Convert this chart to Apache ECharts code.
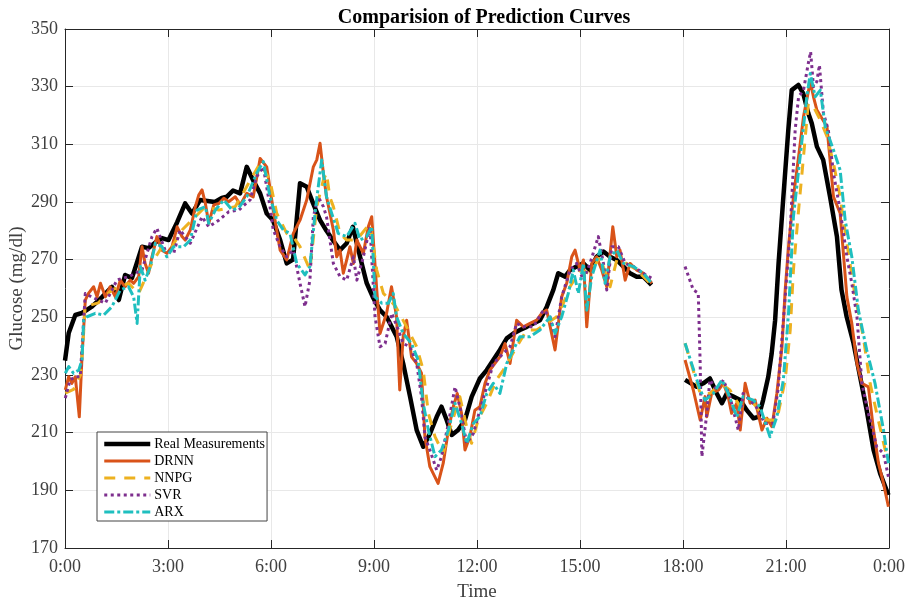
<!DOCTYPE html>
<html>
<head>
<meta charset="utf-8">
<script src="https://cdn.jsdelivr.net/npm/echarts@6/dist/echarts.min.js"></script>
<style>
html,body{margin:0;padding:0;background:#fff;}
#chart{width:913px;height:599px;}
</style>
</head>
<body>
<div id="chart"></div>
<script>
// time in minutes after 0:00, glucose in mg/dl
const xTicks = ['0:00','3:00','6:00','9:00','12:00','15:00','18:00','21:00','0:00'];
const yTicks = [170,190,210,230,250,270,290,310,330,350];

const realSeg1 = [[0,235],[6.5,244.6],[18,250.8],[29.7,251.5],[47,253.7],[64.7,257],[82,260.6],[94,256],[105,264.7],[117,263.6],[134.6,274.5],[146,274],[158,276],[169.5,277.5],[181,276.8],[196,283],[210,289.5],[222,286],[236,290.7],[262,290],[274,291.4],[282.6,291.8],[293.6,294],[306,293],[317.6,302.2],[328.6,297.6],[341,293],[352.5,286],[363.5,283.7],[376,276.8],[387.5,268.7],[398.5,270],[410.7,296.5],[422.4,295.3],[433.4,289.6],[445.7,283.7],[457,280],[468,276.8],[480.6,273.3],[492.3,275.7],[503,281.4],[515.6,271],[527,262],[538,257],[550.5,252.5],[562,250.2],[579.7,243.3],[591,234],[603,222.5],[614.6,210.9],[626,205.1],[638,209.7],[649.6,215.5],[658,219],[667,214.4],[676,209.2],[687,210.9],[699,214.4],[710.8,222.5],[725,228.8],[737,231.7],[748.5,235.2],[760,238.7],[772,242.7],[783.5,244.4],[795,245.6],[807,246.7],[818.5,247.9],[830,249],[842,253.7],[853.4,259.5],[862,265.3],[874,264.1],[882.6,266.4],[894,267.6],[906,268.7],[917.5,266.4],[929,271],[941,272.8],[952.5,271],[964,269.9],[976,267.6],[987.5,265.3],[999,264.1],[1010.7,264.1],[1025,261.2]];
const realSeg2 = [[1083.6,228.3],[1104,225.9],[1115.5,227.1],[1127,228.8],[1139,223.6],[1148,220.2],[1156.5,223.6],[1168,222.5],[1180,221.3],[1191.4,217.8],[1203,215],[1212,215.5],[1220,221.3],[1229,229.4],[1235,237.5],[1241,249],[1247,268.7],[1255.4,291.8],[1264,314.9],[1270,328.8],[1281.6,330.6],[1290,327.7],[1299,320.8],[1305,317.3],[1314,309.2],[1325,304.6],[1337,291.8],[1349,278],[1357,259.5],[1366,250.2],[1378,241],[1389.5,229.4],[1401,217.8],[1413,204],[1424.5,195.9],[1439,188.4]];

const drnnSeg1 = [[0.5,224.8],[6.5,229.4],[12,227.1],[18,229.4],[25,215.5],[29.7,236.3],[35.5,256],[41,258.3],[50,260.6],[56,257.1],[62,261.8],[70.5,257.1],[79,260.6],[88,257.1],[96.6,262.9],[105,260.6],[114,262.9],[120,261.8],[128.7,264.1],[134.6,274.5],[140,268.7],[146,265.3],[152,271],[160.6,278],[169.5,273.3],[178,272.2],[187,274.5],[196,281.4],[204.5,278],[210,276.8],[219,280.3],[227.8,288.4],[233.7,292.4],[239.5,294.2],[245.3,289.5],[251.2,282.6],[260,289],[268.8,289.5],[277.5,291.3],[286,290.1],[297.6,291.8],[306.3,289],[317.6,293],[329,291.8],[341,305.1],[352.5,302.2],[364,287.2],[376,273.3],[387.5,269.9],[399,279.1],[410.7,283.7],[422.4,290.7],[434,302.2],[440,304.6],[445.7,310.4],[451.5,300],[457,291.8],[469,280.3],[474.8,271],[480.6,273.3],[486.4,265.3],[492.3,269.9],[498,274.5],[504,268.7],[510,276.8],[521.4,272.2],[530,281.4],[536,284.9],[544.8,259.5],[550.5,244.4],[562,251.4],[570.6,260.6],[579.4,250.2],[585,224.8],[591,243.3],[597,249],[605.6,236.3],[614.4,234],[623,230.6],[629,208.6],[637.6,198.2],[652,192.4],[661,199.4],[670,210.9],[678.5,219],[685.5,223.6],[693,216.7],[699,204],[707.5,208.6],[716.3,217.8],[725,219],[734,227.1],[742.6,231.7],[751.4,234],[760,236.3],[769,240.9],[777.7,234],[789.3,249],[801,246.7],[812.6,247.9],[824.3,249],[833,251.4],[841.8,252.5],[856.4,238.7],[868,257.1],[876.8,261.8],[885.6,271],[891.4,273.3],[900,266.4],[906,269.9],[911.8,246.7],[920.5,268.7],[929,271],[938,266.4],[946.8,260.6],[957.3,281.4],[964.3,271],[970,273.3],[979,262.9],[987.5,268.7],[999,266.4],[1010.7,265.3],[1025.4,261.8]];
const drnnSeg2 = [[1083.6,235.2],[1098,224.8],[1110,214.4],[1118.6,222.5],[1121.6,215.5],[1130,223.6],[1142,224.8],[1150.6,227.1],[1159,222.5],[1165,216.7],[1174,220.2],[1180,210.9],[1188.6,227.1],[1197.4,220.2],[1206,221.3],[1218,210.9],[1226.6,215],[1235.4,212.1],[1244,223.6],[1253,239.8],[1258.6,259.5],[1264.4,274.5],[1273,291.8],[1282,305.7],[1290.6,319.6],[1302.4,331.7],[1308,326.5],[1314,321.9],[1331.6,316.1],[1343,291.8],[1354.6,286.1],[1366.4,257.1],[1375,247.9],[1384,234],[1392.6,227.1],[1404,225.9],[1413,210.9],[1421.6,199.4],[1430.4,192.4],[1439,184.3]];

const nnpgSeg1 = [[0.5,223.7],[15,225],[27,230],[32.2,243.3],[35,253.7],[58.2,255],[82,259.5],[111,261.8],[128.7,258.3],[152,268.8],[169.5,274.5],[187,274.5],[204.5,280.3],[227.8,284.9],[245.3,288.4],[268.8,287.2],[297.6,288.4],[341,303.5],[358,297.6],[364,291.8],[370,286.1],[387.5,279.1],[399,278],[410.7,274.5],[428,266.4],[440,288.4],[451.5,297.6],[457,300],[462.7,291.8],[469,288.4],[480.6,279.1],[492.3,276.8],[509.7,276.8],[533,282.6],[544.8,266.4],[556.4,258.3],[568,256],[578,253.7],[597,246.7],[614.6,239.8],[626,231.7],[635,216.7],[646.6,208.6],[661,202.8],[675.6,213.2],[690,222.5],[701.8,212.1],[710.5,206.3],[722,214.4],[737,220.2],[754,228.3],[766,231.7],[789.3,239.8],[807,245.6],[824.3,245.6],[859.3,250.2],[871,254.9],[882.6,260.6],[900,266.4],[917.5,265.3],[935,271],[952.5,260.6],[964.3,269.9],[981.6,268.7],[999,266.4],[1022.4,261.8]];
const nnpgSeg2 = [[1083.6,241],[1110,223.6],[1127,223.6],[1145,227.1],[1162,224.8],[1180,219],[1203,220.2],[1226.6,214.4],[1244,214.4],[1258.6,228.3],[1267.4,245.6],[1273,266.4],[1282,287.2],[1290.6,305.7],[1299,324.2],[1308,323.1],[1320,318.4],[1331.6,312.7],[1343,303.4],[1354.6,291.8],[1366.4,275.6],[1381,257.1],[1395,243.3],[1407,227.1],[1418.6,216.7],[1436,201.7]];

const svrSeg1 = [[0.5,222],[9,228.3],[18,229.4],[26.6,229.4],[35.5,258.3],[47,257],[70.5,254.9],[91,263],[111,264.1],[134.6,266.4],[152,278],[160.6,280.9],[175,273.3],[190,272.2],[201,280.3],[219,275.7],[239.5,284.9],[251.2,281.4],[268.8,283.7],[286,286.6],[303.6,287.2],[323.4,290.7],[335,298.8],[346.5,302.2],[358.3,288.4],[364,280.3],[376,274.5],[387.5,271],[399,273.3],[410.7,261.8],[419.4,253.7],[428,262.9],[434,284.9],[442.6,291.8],[451.5,288.4],[457,284.9],[469,268.7],[480.6,264.1],[492.3,262.9],[504,271],[510,262.9],[521.4,271],[533,281.4],[541.8,250.2],[550.5,239.8],[559.4,240.9],[571,251.4],[582.6,245.6],[591,240.9],[603,239.8],[614.6,234],[623,222.5],[629,208.6],[637.6,204],[649.6,197],[658,201.7],[670,213.2],[681.6,225.9],[690,219],[702,206.3],[713.6,209.7],[725,217.8],[737,225.9],[748.5,234],[760,236.3],[777.7,239.8],[789.3,247.9],[801,246.7],[818.5,246.7],[836,252.5],[847.6,250.2],[856.4,243.3],[868,257.1],[882.6,266.4],[894,268.7],[906,262.9],[917.5,268.7],[932,278],[941,268.7],[946.8,259.5],[955.6,274.5],[967,274.5],[979,268.7],[993.4,267.6],[1010.7,265.3],[1025.4,263.5]];
const svrSeg2 = [[1083.6,267.6],[1098,259.5],[1106.7,258.4],[1110,234],[1113,201.7],[1121.6,216.7],[1127,228.3],[1139,224.8],[1150.6,228.3],[1162,222.5],[1176.6,210.9],[1185,223.6],[1197,221.3],[1208,219],[1223,213.2],[1237,213.2],[1246,224.8],[1258.6,257.1],[1267.4,280.3],[1276,314.9],[1282,326.5],[1290.6,328.8],[1299,338.1],[1303,342.1],[1308,330],[1314,331.8],[1318.4,337.5],[1325.4,320.8],[1334,314.9],[1343,299.9],[1354.6,287.2],[1366.4,271],[1375,261.8],[1384,250.2],[1392.6,227.1],[1404,216.7],[1418.6,205.1],[1430.4,202.8],[1439,194.7]];

const arxSeg1 = [[0.5,230.6],[6.5,232.9],[15,230.6],[24,231.7],[29.7,235.2],[32.6,249],[38.5,250.2],[53,251.4],[67.7,250.8],[82,253.7],[96.6,259.5],[111,260.6],[120,257.1],[126,247.9],[131.6,267.6],[140,262.9],[149,267.6],[158,275.7],[169.5,274.5],[178,271],[190,274.5],[207.5,274.5],[219,276.8],[230.7,287.2],[245.3,288.4],[251.2,282.6],[262.7,287.2],[277.5,290.7],[292,287.2],[303.6,288],[317.6,291.8],[335,300],[346.5,304],[358.3,291.8],[370,283.7],[381.5,280.3],[393.2,279.1],[405,268.7],[419.4,264.7],[428,267.6],[437,286.1],[442.6,295.3],[448.6,304.6],[457,291.8],[466,286.1],[477.6,279.1],[492.3,278],[506.8,282.6],[515.6,276.8],[527,278],[536,281.4],[541.8,257.1],[553.5,254.9],[565,254.9],[573.6,258.3],[579.4,250.2],[591,244.4],[605.6,240.9],[617,235.2],[626,220.2],[635,210.9],[646.6,201.7],[658,204],[670,210.9],[681.6,220.2],[693,213.2],[702,206.3],[713.6,213.2],[725,215.5],[737,223.6],[748.5,227.1],[760,223.6],[772,234],[783.5,238.7],[795,243.3],[812.6,243.3],[830,245.6],[847.6,250.2],[856.4,244.4],[868,250.2],[879.5,258.3],[888.3,266.4],[897,258.3],[906,268.7],[911.8,252.5],[920.5,264.1],[935,273.3],[943.8,261.8],[952.5,271],[964.3,273.3],[976,268.7],[993.4,267.6],[1010.7,265.3],[1025.4,261.8]];
const arxSeg2 = [[1083.6,241],[1110,224.8],[1118.6,221.3],[1133,223.6],[1148,228.3],[1159,223.6],[1174,215.5],[1185,222.5],[1203,221.3],[1214.6,219],[1232,208.6],[1244,215.5],[1255.4,228.3],[1264.4,251.4],[1273,284.9],[1284.7,305.7],[1296.4,326.5],[1302.4,334.6],[1311,326.5],[1320,328.8],[1328.6,316.1],[1343,308],[1354.6,301.1],[1363.4,283.7],[1375,271],[1386.5,252.5],[1401,238.7],[1415.6,227.1],[1430.4,210.9],[1439,199.4]];

const seriesNames = ['Real Measurements','DRNN','NNPG','SVR','ARX'];

const gap = [[1050, null]];
const join = (a, b) => a.concat(gap, b);

const FONT = '"Liberation Serif","Times New Roman",serif';
const chart = echarts.init(document.getElementById('chart'), null, {renderer:'canvas'});

const axisLineStyle = {color:'#262626', width:1};
const baseX = {
  type:'value', min:0, max:1440, interval:180,
  axisLine:{show:true, onZero:false, lineStyle:axisLineStyle},
  axisTick:{show:true, inside:true, length:8, lineStyle:axisLineStyle},
  splitLine:{show:false}
};
const baseY = {
  type:'value', min:170, max:350, interval:20,
  axisLine:{show:true, onZero:false, lineStyle:axisLineStyle},
  axisTick:{show:true, inside:true, length:8, lineStyle:axisLineStyle},
  splitLine:{show:false}
};

function mk(name, data, color, width, type, z){
  return {
    name, type:'line', data, showSymbol:false, symbol:'none',
    connectNulls:false, animation:false, z,
    lineStyle:{color, width, type, cap:'butt', join:'round'},
    itemStyle:{color},
    xAxisIndex:0, yAxisIndex:0
  };
}

chart.setOption({
  backgroundColor:'#fff',
  animation:false,
  title:{
    text:'Comparision of Prediction Curves',
    left:479, top:3, textAlign:'center',
    textStyle:{fontFamily:FONT, fontWeight:'bold', fontSize:20, color:'#000'}
  },
  grid:{left:65, right:24, top:29, bottom:51, containLabel:false, outerBoundsMode:'none'},
  legend:{
    orient:'vertical', left:97, top:432,
    data:seriesNames,
    itemWidth:46, itemHeight:14, itemGap:3,
    padding:[5,2,2,5],
    backgroundColor:'#fff', borderColor:'#444', borderWidth:1,
    itemStyle:{opacity:0},
    lineStyle:{width:'inherit', type:'inherit'},
    textStyle:{fontFamily:FONT, fontSize:14, color:'#000', padding:[0,0,0,-1]}
  },
  xAxis:[
    Object.assign({}, baseX, {
      position:'bottom',
      name:'Time', nameLocation:'middle', nameGap:35, nameMoveOverlap:false,
      nameTextStyle:{fontFamily:FONT, fontSize:19, color:'#404040'},
      axisLabel:{show:true, margin:10, fontFamily:FONT, fontSize:18, color:'#404040',
        formatter:(v)=> xTicks[Math.round(v/180)]},
      splitLine:{show:true, lineStyle:{color:'#e8e8e8', width:1}}
    }),
    Object.assign({}, baseX, {position:'top', axisLabel:{show:false}})
  ],
  yAxis:[
    Object.assign({}, baseY, {
      position:'left',
      name:'Glucose (mg/dl)', nameLocation:'middle', nameGap:38, nameRotate:90, nameMoveOverlap:false,
      nameTextStyle:{fontFamily:FONT, fontSize:19, color:'#404040'},
      axisLabel:{show:true, margin:7, fontFamily:FONT, fontSize:18, color:'#404040',
        formatter:(v)=> String(yTicks[Math.round((v-170)/20)])},
      splitLine:{show:true, lineStyle:{color:'#e8e8e8', width:1}}
    }),
    Object.assign({}, baseY, {position:'right', axisLabel:{show:false}})
  ],
  series:[
    mk(seriesNames[0], join(realSeg1, realSeg2), '#000000', 4.5, 'solid', 2),
    mk(seriesNames[1], join(drnnSeg1, drnnSeg2), '#D95319', 3, 'solid', 3),
    mk(seriesNames[2], join(nnpgSeg1, nnpgSeg2), '#EDB120', 3, [11,9], 4),
    mk(seriesNames[3], join(svrSeg1, svrSeg2), '#7E2F8E', 3, [3,3.5], 5),
    mk(seriesNames[4], join(arxSeg1, arxSeg2), '#1FBFBF', 3, [10,3,3,3], 6)
  ]
});
</script>
</body>
</html>
